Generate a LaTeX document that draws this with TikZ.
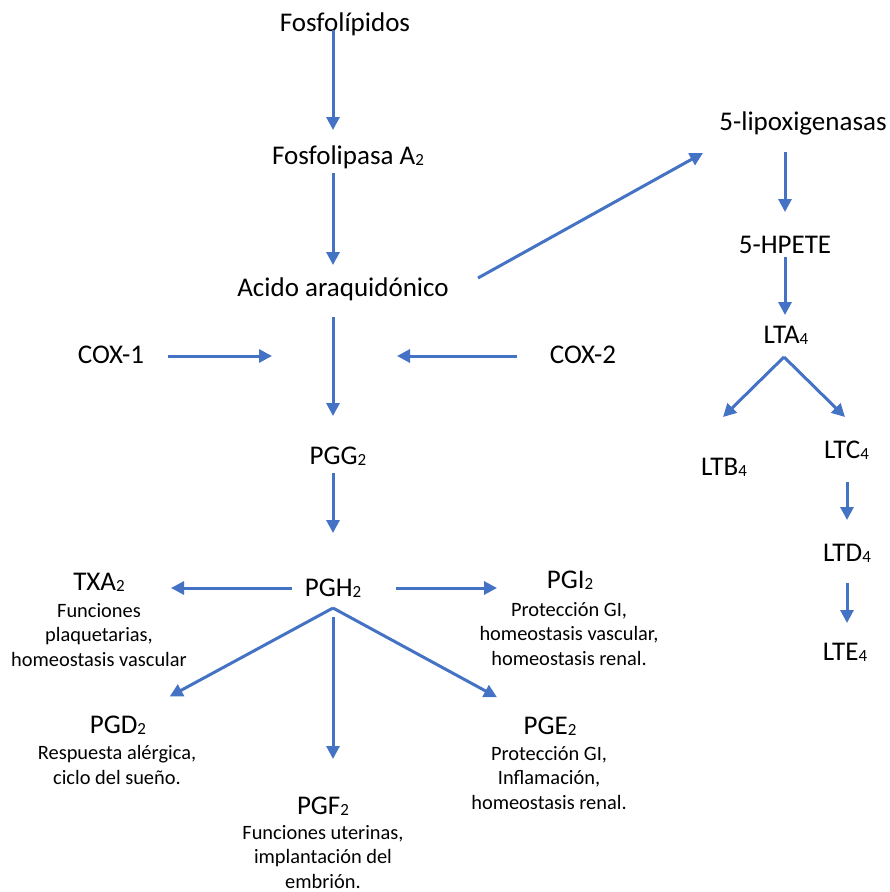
\documentclass[tikz,border=0pt]{standalone}
\usepackage{fontspec}
\setmainfont{Carlito}
\usetikzlibrary{arrows.meta}
\definecolor{arrblue}{HTML}{4472C4}
\newcommand{\sbs}[1]{\raisebox{-1pt}{\fontsize{17}{17}\selectfont #1}}
\begin{document}
\begin{tikzpicture}[x=1pt,y=-1pt,
  ttl/.style={inner sep=0pt,text height=17.4pt,text depth=0pt,font=\fontsize{27}{32}\selectfont},
  desc/.style={inner sep=0pt,align=center,font=\fontsize{20.4}{24.6}\selectfont},
  arr/.style={draw=arrblue,line width=3pt,-{Triangle[length=13pt,width=13pt]}}]
\useasboundingbox (0,0) rectangle (890,892);
% main column
\node[ttl] (fosfo) at (345,23) {Fosfolípidos};
\node[ttl] (lipasa) at (348,156) {Fosfolipasa A\sbs{2}};
\node[ttl] (acido) at (343,288) {Acido araquidónico};
\node[ttl] (cox1) at (111,355) {COX-1};
\node[ttl] (cox2) at (583,355) {COX-2};
\node[ttl] (pgg) at (338,456) {PGG\sbs{2}};
\node[ttl] (pgh) at (333,588) {PGH\sbs{2}};
\node[ttl] (txa) at (99,582) {TXA\sbs{2}};
\node[desc] (txad) at (99,635) {Funciones\\plaquetarias,\\homeostasis vascular};
\node[ttl] (pgi) at (570,580) {PGI\sbs{2}};
\node[desc] (pgid) at (569,634) {Protección GI,\\homeostasis vascular,\\homeostasis renal.};
\node[ttl] (pgd) at (118,724.5) {PGD\sbs{2}};
\node[desc] (pgdd) at (117,765) {Respuesta alérgica,\\ciclo del sueño.};
\node[ttl] (pge) at (550,726) {PGE\sbs{2}};
\node[desc] (pged) at (549,778) {Protección GI,\\Inflamación,\\homeostasis renal.};
\node[ttl] (pgf) at (323,806) {PGF\sbs{2}};
\node[desc] (pgfd) at (323,857) {Funciones uterinas,\\implantación del\\embrión.};
% leukotriene branch
\node[ttl] (lipox) at (803,122) {5-lipoxigenasas};
\node[ttl] (hpete) at (785,245) {5-HPETE};
\node[ttl] (lta) at (786,335) {LTA\sbs{4}};
\node[ttl] (ltb) at (724,467) {LTB\sbs{4}};
\node[ttl] (ltc) at (846.5,450) {LTC\sbs{4}};
\node[ttl] (ltd) at (847,553) {LTD\sbs{4}};
\node[ttl] (lte) at (845,652) {LTE\sbs{4}};
\coordinate (cox1end) at (272,356);
\coordinate (cox2end) at (397,356);
% connectors
\draw[arr,shorten <=7pt,shorten >=26pt] (fosfo.center -| pgh.center) -- (lipasa.center -| pgh.center);
\draw[arr,shorten <=17pt,shorten >=23pt] (lipasa.center -| pgh.center) -- (acido.center -| pgh.center);
\draw[arr,shorten <=29pt,shorten >=40pt] (acido.center -| pgh.center) -- (pgg.center -| pgh.center);
\draw[arr,shorten <=17pt,shorten >=55pt] (pgg.center -| pgh.center) -- (pgh.center);
\draw[arr,shorten <=57pt] (cox1.center |- cox1end) -- (cox1end);
\draw[arr,shorten <=66pt] (cox2.center |- cox2end) -- (cox2end);
\draw[arr,shorten <=41pt,shorten >=72pt] (pgh.center) -- (pgh.center -| txa.center);
\draw[arr,shorten <=63pt,shorten >=73pt] (pgh.center) -- (pgh.center -| pgi.center);
\draw[arr,shorten >=58.8pt] ([yshift=-20pt]pgh.center) -- (pgd.center);
\draw[arr,shorten >=60.4pt] ([yshift=-20pt]pgh.center) -- (pge.center);
\draw[arr,shorten <=29pt,shorten >=47pt] (pgh.center) -- (pgh.center |- pgf.center);
\draw[arr] ([xshift=135pt,yshift=10pt]acido.center) -- ([xshift=-100pt,yshift=-31pt]lipox.center);
\draw[arr,shorten <=30pt,shorten >=33pt] (lipox.center -| hpete.center) -- (hpete.center);
\draw[arr,shorten <=12pt,shorten >=20pt] (hpete.center) -- (lta.center -| hpete.center);
\draw[arr] ([xshift=-2pt,yshift=-22pt]lta.center) -- ([xshift=-1pt,yshift=50pt]ltb.center);
\draw[arr] ([xshift=-2pt,yshift=-22pt]lta.center) -- ([xshift=-1.5pt,yshift=33pt]ltc.center);
\draw[arr,shorten <=32pt,shorten >=33pt] (ltc.center -| ltd.center) -- (ltd.center);
\draw[arr,shorten <=30pt,shorten >=29pt] (ltd.center) -- (lte.center -| ltd.center);
\end{tikzpicture}
\end{document}
